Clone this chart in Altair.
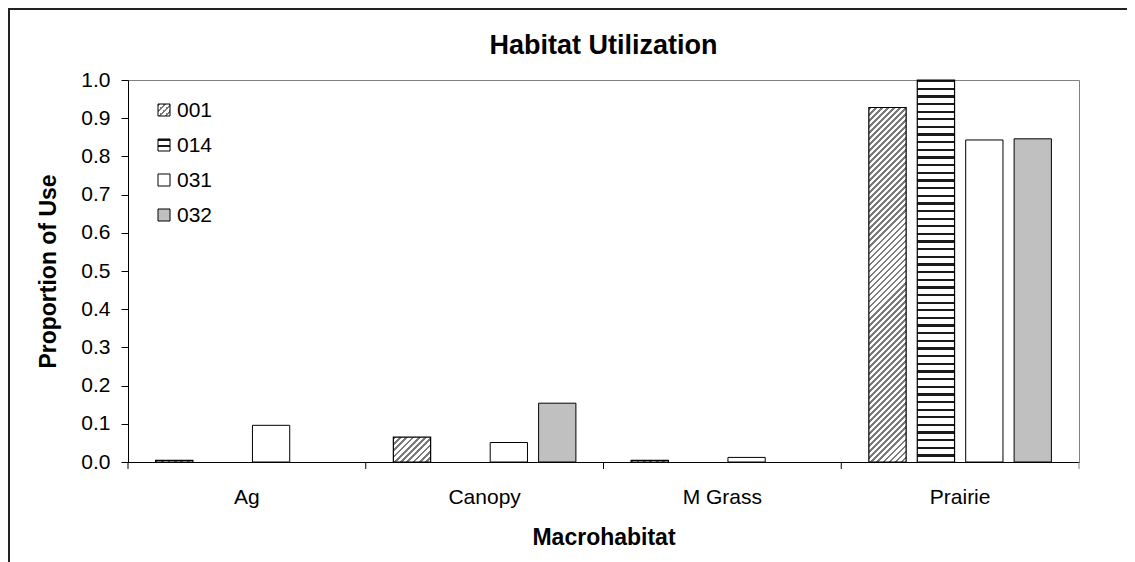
import altair as alt
import pandas as pd

# ---------------- data ----------------
categories = ["Ag", "Canopy", "M Grass", "Prairie"]
series = ["001", "014", "031", "032"]
v001 = [0.004, 0.065, 0.004, 0.928]
v014 = [0.0, 0.0, 0.0, 1.0]
v031 = [0.096, 0.051, 0.012, 0.843]
v032 = [0.0, 0.154, 0.0, 0.846]
yticks = [0.0, 0.1, 0.2, 0.3, 0.4, 0.5, 0.6, 0.7, 0.8, 0.9, 1.0]
chart_title = "Habitat Utilization"

rows = []
for s, vals in zip(series, [v001, v014, v031, v032]):
    for c, v in zip(categories, vals):
        rows.append({"cat": c, "series": s, "value": v})
df = pd.DataFrame(rows)

# ---------------- layout ----------------
PLOT_W, PLOT_H = 951, 382
FONT = "Liberation Sans"
PAD_IN, PAD_OUT = 0.23, 0.57
band = PLOT_W / len(categories)
step = band / (len(series) - PAD_IN + 2 * PAD_OUT)
BAR_W = step * (1 - PAD_IN)
LABEL_FS = 21
TITLE_FS = 23


def stripe_stops(n, duty, dark, light):
    stops = []
    for k in range(n):
        a = k / n
        b = (k + duty) / n
        c = (k + 1) / n
        stops += [
            {"offset": a, "color": dark},
            {"offset": b, "color": dark},
            {"offset": b, "color": light},
            {"offset": c, "color": light},
        ]
    return stops


def diag_gradient(w, h, period=6.0):
    r = h / w
    a = (1 + r) / (1 + r * r)
    n = max(1, int(round((w + h) / period)))
    return {"gradient": "linear", "x1": 0, "y1": 0, "x2": a, "y2": a * r,
            "stops": stripe_stops(n, 0.45, "#7a7a7a", "#ffffff")}


def horiz_gradient(h, period=7.6):
    n = max(1, int(round(h / period)))
    return {"gradient": "linear", "x1": 0, "y1": 0, "x2": 0, "y2": 1,
            "stops": stripe_stops(n, 0.3, "#1a1a1a", "#ffffff")}


x_axis = alt.Axis(title="Macrohabitat", ticks=False, labelPadding=24,
                  labelFontSize=LABEL_FS, titleFontSize=TITLE_FS, titleFontWeight="bold",
                  titlePadding=19, labelAngle=0, domainColor="black", labelColor="black",
                  titleColor="black")
x_scale = alt.Scale(domain=categories, paddingInner=0, paddingOuter=0)
x_enc = alt.X("cat:N", scale=x_scale, axis=x_axis)
xo_enc = alt.XOffset("series:N", scale=alt.Scale(domain=series, paddingInner=PAD_IN, paddingOuter=PAD_OUT))
y_enc = alt.Y("value:Q", scale=alt.Scale(domain=[0, 1], nice=False),
              axis=alt.Axis(title="Proportion of Use", values=yticks, format=".1f",
                            grid=False, tickSize=7, labelPadding=11, labelFontSize=LABEL_FS,
                            titleFontSize=TITLE_FS, titleFontWeight="bold", titlePadding=20,
                            domainColor="black", tickColor="black", labelColor="black",
                            titleColor="black"))

base = alt.Chart(df)
layers = []

# plain bars (031 white, 032 gray)
plain = base.transform_filter(
    "(datum.series == '031' || datum.series == '032') && datum.value > 0"
).mark_bar(stroke="black", strokeWidth=1).encode(
    x=x_enc, xOffset=xo_enc, y=y_enc,
    fill=alt.Fill("series:N", scale=alt.Scale(domain=["031", "032"], range=["#ffffff", "#c0c0c0"]), legend=None),
)
layers.append(plain)

# patterned bars, one layer each so the pattern scale matches the bar size
for s, vals in [("001", v001), ("014", v014)]:
    for c, v in zip(categories, vals):
        if v <= 0:
            continue
        h = v * PLOT_H
        grad = diag_gradient(BAR_W, h) if s == "001" else horiz_gradient(h)
        lyr = base.transform_filter(
            f"datum.series == '{s}' && datum.cat == '{c}'"
        ).mark_bar(stroke="black", strokeWidth=1.2, fill=grad).encode(
            x=x_enc, xOffset=xo_enc, y=y_enc
        )
        layers.append(lyr)

# category boundary ticks
cat_df = pd.DataFrame({"cat": categories})
ticks_start = alt.Chart(cat_df).mark_rule(color="black", strokeWidth=1).encode(
    x=alt.X("cat:N", scale=x_scale, axis=x_axis, bandPosition=0),
    y=alt.value(PLOT_H), y2=alt.value(PLOT_H + 7),
)
ticks_end = alt.Chart(cat_df).transform_filter(
    f"datum.cat == '{categories[-1]}'"
).mark_rule(color="#808080", strokeWidth=1).encode(
    x=alt.X("cat:N", scale=x_scale, axis=x_axis, bandPosition=1),
    y=alt.value(PLOT_H), y2=alt.value(PLOT_H + 7),
)
layers += [ticks_start, ticks_end]

# manual legend
LX, LY0, LDY, LS = 30, 30, 35, 12
leg_fills = [diag_gradient(LS, LS, period=6.0), horiz_gradient(LS, period=5.5), "#ffffff", "#c0c0c0"]
for i, s in enumerate(series):
    cy = LY0 + i * LDY
    sym = alt.Chart(alt.Data(values=[{"s": s}])).mark_rect(
        stroke="black", strokeWidth=1, fill=leg_fills[i]
    ).encode(x=alt.value(LX), x2=alt.value(LX + LS), y=alt.value(cy - LS / 2), y2=alt.value(cy + LS / 2))
    txt = alt.Chart(alt.Data(values=[{"s": s}])).mark_text(
        align="left", baseline="middle", fontSize=LABEL_FS, font=FONT, color="black"
    ).encode(x=alt.value(LX + 19), y=alt.value(cy + 1), text="s:N")
    layers += [sym, txt]

# chart title as a text mark (kept inside the fixed canvas)
title_lyr = alt.Chart(alt.Data(values=[{"t": chart_title}])).mark_text(
    align="center", baseline="middle", fontSize=27, fontWeight="bold", font=FONT, color="black"
).encode(x=alt.value(PLOT_W / 2), y=alt.value(-34), text="t:N")
layers.append(title_lyr)

# outer chart-area frame (left and top edges)
frame_l = alt.Chart(alt.Data(values=[{}])).mark_rule(color="#222222", strokeWidth=2).encode(
    x=alt.value(-119), y=alt.value(-72), y2=alt.value(PLOT_H + 120))
frame_t = alt.Chart(alt.Data(values=[{}])).mark_rule(color="#222222", strokeWidth=2).encode(
    x=alt.value(-120), x2=alt.value(PLOT_W + 100), y=alt.value(-71))
layers += [frame_l, frame_t]

chart = alt.layer(*layers).properties(
    width=PLOT_W, height=PLOT_H,
    autosize=alt.AutoSizeParams(type="none"),
    padding={"left": 120, "top": 72, "right": 48, "bottom": 100},
).configure(
    font=FONT,
).configure_view(
    stroke="#808080", strokeWidth=1
).configure_axis(
    labelFont=FONT, titleFont=FONT
)

chart.save("out.html", embed_options={"renderer": "svg", "actions": False})
